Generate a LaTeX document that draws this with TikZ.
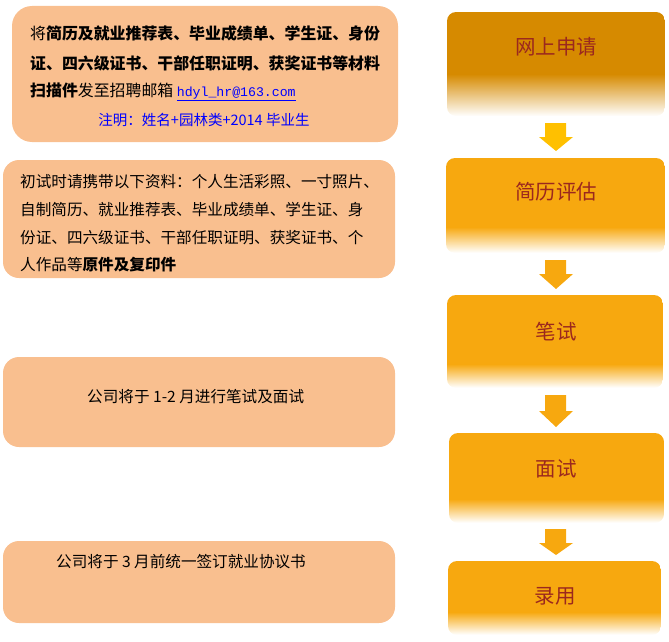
\documentclass[tikz,border=0pt]{standalone}
\usepackage{fontspec}
\newfontfamily\cjk{Noto Sans CJK SC}
\newfontfamily\mono{Liberation Mono}
\definecolor{peach}{RGB}{249,191,143}
\definecolor{boxorange}{RGB}{247,168,15}
\definecolor{darkorange}{RGB}{214,138,0}
\definecolor{gold}{RGB}{255,192,0}
\definecolor{redtext}{RGB}{155,40,30}
\definecolor{linkblue}{RGB}{0,0,255}
\tikzset{
  lbox/.style={fill=peach, rounded corners=#1, inner sep=0pt},
  rbox/.style 2 args={rounded corners=9pt, inner sep=0pt,
    path picture={%
      \fill[#2, sharp corners] ([yshift={#1pt+0.5pt}]path picture bounding box.south west) rectangle (path picture bounding box.north east);
      \foreach \k in {0,...,#1}{%
      \pgfmathsetmacro\pc{100*\k/#1}%
      \fill[#2!\pc!white!97!#2, sharp corners] ([yshift=\k pt]path picture bounding box.south west)
        rectangle ([yshift={\k pt+1.5pt}]path picture bounding box.south east);}}},
  ltext/.style={font=\cjk\fontsize{15.6}{20}\selectfont, anchor=west, inner sep=0pt},
  rtext/.style={font=\cjk\fontsize{20.5}{24}\selectfont, text=redtext, inner sep=0pt},
  blockarrow/.style={fill=#1, draw=none}
}
\begin{document}
\begin{tikzpicture}[x=1pt,y=-1pt]
\useasboundingbox (0,0) rectangle (669,642);
% left boxes
\node[lbox=20pt, minimum width=386, minimum height=136] (l1) at (205,74) {};
\node[lbox=16pt, minimum width=392, minimum height=118] (l2) at (199,219) {};
\node[lbox=16pt, minimum width=392, minimum height=90] (l3) at (199,402) {};
\node[lbox=16pt, minimum width=392, minimum height=82] (l4) at (199,582) {};
% left texts
\node[ltext, font=\cjk\fontsize{15.9}{20}\selectfont] (t11) at (30,33) {将\textbf{简历及就业推荐表、毕业成绩单、学生证、身份}};
\node[ltext, font=\cjk\fontsize{15.9}{20}\selectfont] (t12) at (30,63) {\textbf{证、四六级证书、干部任职证明、获奖证书等材料}};
\node[ltext, font=\cjk\fontsize{15.9}{20}\selectfont] (t13) at (30,92) {\textbf{扫描件}发至招聘邮箱 \textcolor{linkblue}{\underline{\mono\fontsize{13.2}{16}\selectfont hdyl\_hr@163.com}}};
\node[ltext, anchor=center, text=linkblue, font=\cjk\fontsize{14.5}{18}\selectfont] (t14) at (204,120) {注明：姓名+园林类+2014 毕业生};
\node[ltext] (t21) at (20,182) {初试时请携带以下资料：个人生活彩照、一寸照片、};
\node[ltext] (t22) at (20,210) {自制简历、就业推荐表、毕业成绩单、学生证、身};
\node[ltext] (t23) at (20,238) {份证、四六级证书、干部任职证明、获奖证书、个};
\node[ltext] (t24) at (20,265) {人作品等\textbf{原件及复印件}};
\node[ltext] (t3) at (87,397) {公司将于 1-2 月进行笔试及面试};
\node[ltext] (t4) at (56,562) {公司将于 3 月前统一签订就业协议书};
% right boxes
\node[rbox={41}{darkorange}, minimum width=218, minimum height=104] (r1) at (556,64) {};
\node[rbox={25}{boxorange}, minimum width=219, minimum height=95] (r2) at (555.5,205.5) {};
\node[rbox={23}{boxorange}, minimum width=216, minimum height=93] (r3) at (555,341.5) {};
\node[rbox={23}{boxorange}, minimum width=215, minimum height=90] (r4) at (556.5,478) {};
\node[rbox={22}{boxorange}, minimum width=213, minimum height=74] (r5) at (554.5,598) {};
\node[rtext] (s1) at (556,47) {网上申请};
\node[rtext] (s2) at (556,192) {简历评估};
\node[rtext] (s3) at (556,332) {笔试};
\node[rtext] (s4) at (556,469) {面试};
\node[rtext] (s5) at (555,596) {录用};
% block arrows
\fill[blockarrow=gold] (545,123) -- (566,123) -- (566,137) -- (573,137) -- (556,151) -- (539,137) -- (545,137) -- cycle;
\fill[blockarrow=boxorange] (545,260) -- (566,260) -- (566,274) -- (573,274) -- (556,289) -- (539,274) -- (545,274) -- cycle;
\fill[blockarrow=boxorange] (545,395) -- (566,395) -- (566,411) -- (573,411) -- (556,427) -- (539,411) -- (545,411) -- cycle;
\fill[blockarrow=boxorange] (545,529) -- (566,529) -- (566,543) -- (573,543) -- (556,555) -- (539,543) -- (545,543) -- cycle;
\end{tikzpicture}
\end{document}
